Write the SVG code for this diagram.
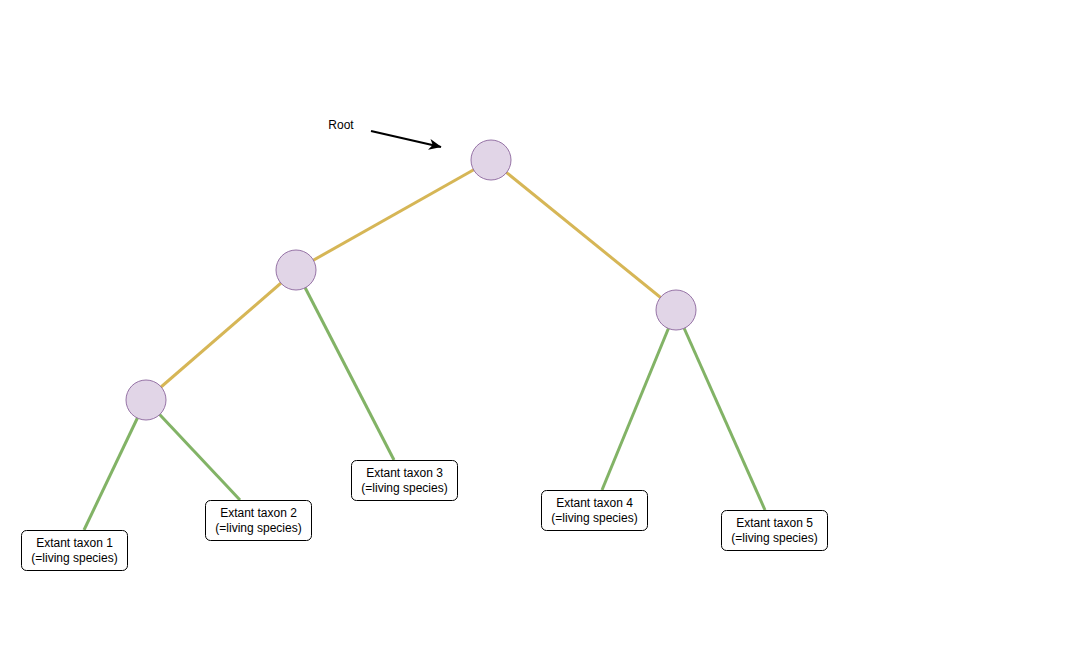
<svg xmlns="http://www.w3.org/2000/svg" width="1072" height="671" viewBox="0 0 1072 671">
<style>
.inner{stroke:#d6b656;stroke-width:3;fill:none}
.leaf{stroke:#82b366;stroke-width:3;fill:none}
.node circle{fill:#e1d5e7;stroke:#9673a6;stroke-width:1}
.box rect{fill:#fff;stroke:#000;stroke-width:1}
text{font-family:"Liberation Sans",Arial,sans-serif;font-size:12px;fill:#000}
.c{text-anchor:middle}
</style>
<defs>
<marker id="arr" markerWidth="13" markerHeight="12" refX="12" refY="6" orient="auto" markerUnits="userSpaceOnUse">
<path d="M0,0.5 L12.5,6 L0,11.5 L3.5,6 Z" fill="#000"/>
</marker>
</defs>
<rect width="1072" height="671" fill="#fff"/>
<g id="connectors">
<line class="inner" x1="491" y1="160" x2="296" y2="270"/>
<line class="inner" x1="491" y1="160" x2="676" y2="310"/>
<line class="inner" x1="296" y1="270" x2="146" y2="400"/>
<line class="leaf" x1="296" y1="270" x2="394" y2="460"/>
<line class="leaf" x1="146" y1="400" x2="84" y2="530"/>
<line class="leaf" x1="146" y1="400" x2="240" y2="500"/>
<line class="leaf" x1="676" y1="310" x2="602" y2="490"/>
<line class="leaf" x1="676" y1="310" x2="765" y2="510"/>
<line x1="371" y1="131" x2="441" y2="147" stroke="#000" stroke-width="2" marker-end="url(#arr)"/>
</g>
<g id="root-label"><text x="341" y="129" class="c">Root</text></g>
<g id="node-root" class="node"><circle cx="491" cy="160" r="20"/></g>
<g id="node-a" class="node"><circle cx="296" cy="270" r="20"/></g>
<g id="node-b" class="node"><circle cx="146" cy="400" r="20"/></g>
<g id="node-c" class="node"><circle cx="676" cy="310" r="20"/></g>
<g id="taxon1" class="box"><rect x="21.5" y="530.5" width="106" height="40" rx="5"/><text x="74.5" y="547" class="c">Extant taxon 1</text><text x="74.5" y="562" class="c">(=living species)</text></g>
<g id="taxon2" class="box"><rect x="205.5" y="500.5" width="106" height="40" rx="5"/><text x="258.5" y="517" class="c">Extant taxon 2</text><text x="258.5" y="532" class="c">(=living species)</text></g>
<g id="taxon3" class="box"><rect x="351.5" y="460.5" width="106" height="40" rx="5"/><text x="404.5" y="477" class="c">Extant taxon 3</text><text x="404.5" y="492" class="c">(=living species)</text></g>
<g id="taxon4" class="box"><rect x="541.5" y="490.5" width="106" height="40" rx="5"/><text x="594.5" y="507" class="c">Extant taxon 4</text><text x="594.5" y="522" class="c">(=living species)</text></g>
<g id="taxon5" class="box"><rect x="721.5" y="510.5" width="106" height="40" rx="5"/><text x="774.5" y="527" class="c">Extant taxon 5</text><text x="774.5" y="542" class="c">(=living species)</text></g>
</svg>
